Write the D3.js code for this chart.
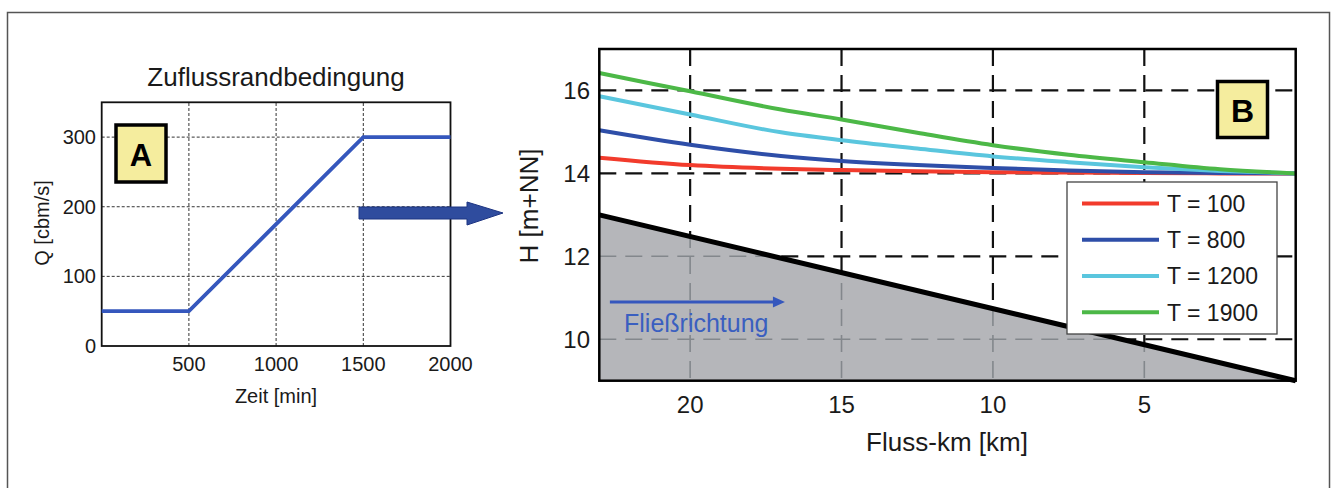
<!DOCTYPE html>
<html><head><meta charset="utf-8">
<script src="https://cdn.jsdelivr.net/npm/d3@7"></script>
<style>body{margin:0;background:#fff}svg{display:block;font-family:"Liberation Sans",Arial,sans-serif}</style>
</head><body><svg id="c" width="1336" height="488"></svg>
<script>
// ---- Panel A data ----
const timeMin = [0, 500, 1500, 2000];
const inflowQ = [50, 50, 300, 300];
const aXTicks = [500, 1000, 1500, 2000];
const aYTicks = [0, 100, 200, 300];
const aXGrid = [500, 1000, 1500];
const aYGrid = [100, 200, 300];

// ---- Panel B data ----
const flussKm = [23, 20, 17, 15, 12.5, 10, 7.5, 5, 2.5, 0];
const hT100  = [14.38, 14.20, 14.11, 14.08, 14.05, 14.03, 14.02, 14.01, 14.00, 14.0];
const hT800  = [15.04, 14.69, 14.42, 14.30, 14.20, 14.13, 14.07, 14.03, 14.01, 14.0];
const hT1200 = [15.86, 15.42, 14.99, 14.80, 14.60, 14.41, 14.27, 14.15, 14.06, 14.0];
const hT1900 = [16.42, 15.98, 15.54, 15.30, 14.98, 14.68, 14.45, 14.27, 14.10, 14.0];
const seriesNames = ["T = 100", "T = 800", "T = 1200", "T = 1900"];
const seriesColors = ["#f23b2c", "#2e4ea8", "#5ac6de", "#4cb847"];
const bedKm = [23, 0];
const bedH = [13, 9];
const bXTicks = [20, 15, 10, 5];
const bYTicks = [10, 12, 14, 16];

const svg = d3.select("#c");
const txt = "#1a1a1a";

// outer frame
svg.append("rect").attr("x",7.5).attr("y",12.5).attr("width",1322).attr("height",520)
  .attr("fill","none").attr("stroke","#555").attr("stroke-width",1.5);

// ================= Panel A =================
const ax = d3.scaleLinear().domain([0,2000]).range([101.7,450.5]);
const ay = d3.scaleLinear().domain([0,350]).range([346,102.3]);
const gA = svg.append("g");
gA.append("rect").attr("x",ax(0)).attr("y",ay(350)).attr("width",ax(2000)-ax(0)).attr("height",ay(0)-ay(350)).attr("fill","#fff");
gA.selectAll(".vg").data(aXGrid).join("line")
  .attr("x1",d=>ax(d)).attr("x2",d=>ax(d)).attr("y1",ay(0)).attr("y2",ay(350))
  .attr("stroke","#333").attr("stroke-width",1).attr("stroke-dasharray","3,2");
gA.selectAll(".hg").data(aYGrid).join("line")
  .attr("y1",d=>ay(d)).attr("y2",d=>ay(d)).attr("x1",ax(0)).attr("x2",ax(2000))
  .attr("stroke","#333").attr("stroke-width",1).attr("stroke-dasharray","3,2");
gA.append("rect").attr("x",ax(0)).attr("y",ay(350)).attr("width",ax(2000)-ax(0)).attr("height",ay(0)-ay(350))
  .attr("fill","none").attr("stroke","#111").attr("stroke-width",1.8);
gA.append("path").datum(timeMin.map((t,i)=>[t,inflowQ[i]]))
  .attr("d",d3.line().x(d=>ax(d[0])).y(d=>ay(d[1])))
  .attr("fill","none").attr("stroke","#3557bd").attr("stroke-width",3.8);
gA.selectAll(".xt").data(aXTicks).join("text")
  .attr("x",d=>ax(d)).attr("y",371).attr("text-anchor","middle").attr("font-size",20).attr("fill",txt).text(d=>d);
gA.selectAll(".yt").data(aYTicks).join("text")
  .attr("x",96).attr("y",d=>ay(d)).attr("dy","0.35em").attr("text-anchor","end").attr("font-size",20).attr("fill",txt).text(d=>d);
gA.append("text").attr("x",276).attr("y",86).attr("text-anchor","middle").attr("font-size",26).attr("fill",txt).text("Zuflussrandbedingung");
gA.append("text").attr("x",276).attr("y",403).attr("text-anchor","middle").attr("font-size",20).attr("fill",txt).text("Zeit [min]");
gA.append("text").attr("transform","translate(49,223) rotate(-90)").attr("text-anchor","middle").attr("font-size",20).attr("fill",txt).text("Q [cbm/s]");
// A label box
gA.append("rect").attr("x",116).attr("y",125).attr("width",50).attr("height",57)
  .attr("fill","#f5ed9e").attr("stroke","#000").attr("stroke-width",3.5);
gA.append("text").attr("x",141).attr("y",155).attr("dy","0.36em").attr("text-anchor","middle")
  .attr("font-size",31).attr("font-weight","bold").attr("fill","#000").text("A");

// block arrow
svg.append("path")
  .attr("d","M359,207 L467,207 L467,202 L503,213 L467,225 L467,219 L359,219 Z")
  .attr("fill","#2f4c9e").attr("stroke","#1d3482").attr("stroke-width",1);

// ================= Panel B =================
const bx = d3.scaleLinear().domain([23,0]).range([599.3,1295.7]);
const by = d3.scaleLinear().domain([9,17]).range([380.7,49]);
const gB = svg.append("g");
gB.append("rect").attr("x",bx(23)).attr("y",by(17)).attr("width",bx(0)-bx(23)).attr("height",by(9)-by(17)).attr("fill","#fff");

function grid(g, color, width, dash){
  g.selectAll(null).data(bXTicks).join("line")
    .attr("x1",d=>bx(d)).attr("x2",d=>bx(d)).attr("y1",by(17)).attr("y2",by(9))
    .attr("stroke",color).attr("stroke-width",width).attr("stroke-dasharray",dash);
  g.selectAll(null).data(bYTicks).join("line")
    .attr("y1",d=>by(d)).attr("y2",d=>by(d)).attr("x1",bx(23)).attr("x2",bx(0))
    .attr("stroke",color).attr("stroke-width",width).attr("stroke-dasharray",dash);
}
grid(gB.append("g"), "#111", 2.2, "17,9");

// bed fill
const bedPts = bedKm.map((k,i)=>[k,bedH[i]]);
const area = d3.area().x(d=>bx(d[0])).y0(by(9)).y1(d=>by(d[1]));
svg.append("clipPath").attr("id","bedclip").append("path").datum(bedPts).attr("d",area);
gB.append("path").datum(bedPts).attr("d",area).attr("fill","#b5b6ba");
grid(gB.append("g").attr("clip-path","url(#bedclip)"), "#83878c", 1.6, "17,9");

// water level curves
const bLine = d3.line().x(d=>bx(d[0])).y(d=>by(d[1])).curve(d3.curveMonotoneX);
const allSeries = [hT100, hT800, hT1200, hT1900];
allSeries.forEach((s,i)=>{
  gB.append("path").datum(flussKm.map((k,j)=>[k,s[j]])).attr("d",bLine)
    .attr("fill","none").attr("stroke",seriesColors[i]).attr("stroke-width",4);
});
// bed line
gB.append("path").datum(bedPts).attr("d",d3.line().x(d=>bx(d[0])).y(d=>by(d[1])))
  .attr("fill","none").attr("stroke","#000").attr("stroke-width",5);
// frame
gB.append("rect").attr("x",bx(23)).attr("y",by(17)).attr("width",bx(0)-bx(23)).attr("height",by(9)-by(17))
  .attr("fill","none").attr("stroke","#000").attr("stroke-width",2.5);

// flow arrow + label
const fl = gB.append("g");
fl.append("line").attr("x1",bx(22.65)).attr("x2",bx(17.2)).attr("y1",302).attr("y2",302)
  .attr("stroke","#3557bd").attr("stroke-width",3);
fl.append("path").attr("d",`M${bx(17.2)-2},296.5 L${bx(17.2)+10},302 L${bx(17.2)-2},307.5 Z`).attr("fill","#3557bd");
fl.append("text").attr("x",624).attr("y",332).attr("font-size",25).attr("fill","#3a5fc0").text("Fließrichtung");

// ticks
gB.selectAll(".bxt").data(bXTicks).join("text")
  .attr("x",d=>bx(d)).attr("y",413).attr("text-anchor","middle").attr("font-size",24).attr("fill",txt).text(d=>d);
gB.selectAll(".byt").data(bYTicks).join("text")
  .attr("x",590).attr("y",d=>by(d)).attr("dy","0.35em").attr("text-anchor","end").attr("font-size",24).attr("fill",txt).text(d=>d);
gB.append("text").attr("x",947).attr("y",451).attr("text-anchor","middle").attr("font-size",26).attr("fill",txt).text("Fluss-km [km]");
gB.append("text").attr("transform","translate(538,206) rotate(-90)").attr("text-anchor","middle").attr("font-size",26).attr("fill",txt).text("H [m+NN]");

// B label box
gB.append("rect").attr("x",1217.5).attr("y",81.5).attr("width",50).attr("height",56)
  .attr("fill","#f5ed9e").attr("stroke","#000").attr("stroke-width",3.5);
gB.append("text").attr("x",1242.5).attr("y",110).attr("dy","0.36em").attr("text-anchor","middle")
  .attr("font-size",32).attr("font-weight","bold").attr("fill","#000").text("B");

// legend
const lg = gB.append("g");
lg.append("rect").attr("x",1067).attr("y",182).attr("width",210).attr("height",152)
  .attr("fill","#fff").attr("stroke","#444").attr("stroke-width",1.3);
const rowY = d3.scaleLinear().domain([0,3]).range([203.5,312.3]);
seriesNames.forEach((n,i)=>{
  lg.append("line").attr("x1",1082).attr("x2",1159).attr("y1",rowY(i)).attr("y2",rowY(i))
    .attr("stroke",seriesColors[i]).attr("stroke-width",4);
  lg.append("text").attr("x",1167).attr("y",rowY(i)).attr("dy","0.36em").attr("font-size",23).attr("fill",txt).text(n);
});
</script></body></html>
